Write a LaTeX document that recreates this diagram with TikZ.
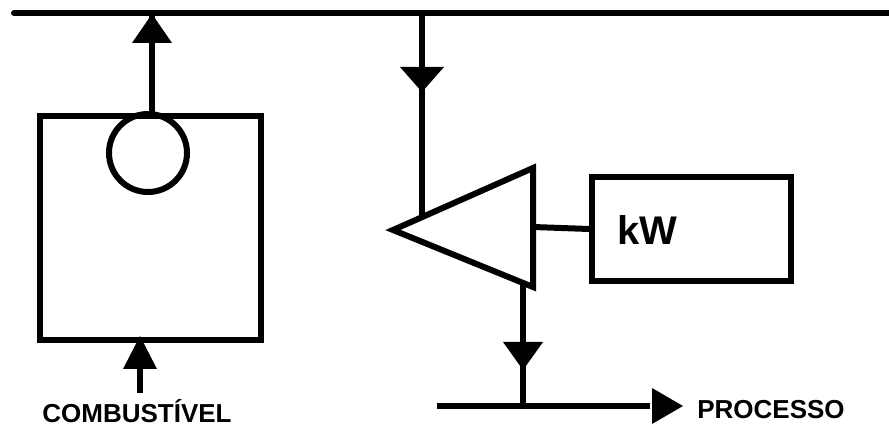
\documentclass[tikz,border=0pt]{standalone}
\usepackage{fontspec}
\setmainfont{Liberation Sans}
\begin{document}
\begin{tikzpicture}[x=1pt,y=-1pt,
  ln/.style={line width=6pt},
  head/.style={fill=black},
  lbl/.style={font=\bfseries\fontsize{26}{26}\selectfont, inner sep=0pt, anchor=base}]
\useasboundingbox (0,0) rectangle (889,427);
% coordinates
\coordinate (busL) at (14,13);
\coordinate (busR) at (895,13);
\coordinate (upTop) at (152,13);
\coordinate (boxT) at (152,113);
\coordinate (dnTop) at (422,13);
\coordinate (dnBot) at (422,217);
\coordinate (tipL) at (393,230);
\coordinate (tTop) at (533,168);
\coordinate (tBot) at (533,287);
\coordinate (shaftA) at (533,227);
\coordinate (exA) at (523,284);
\coordinate (exB) at (523,406);
\coordinate (prL) at (437,406);
\coordinate (prR) at (682,406);
\coordinate (fuelA) at (140,393);
\coordinate (fuelB) at (140,337);
% boiler
\node[draw, ln, minimum width=221pt, minimum height=224pt, inner sep=0pt, anchor=north west] (boiler) at (37,113) {};
\node[draw, ln, circle, minimum size=78pt, inner sep=0pt] (drum) at (148,153) {};
% generator box
\node[draw, ln, minimum width=199pt, minimum height=104pt, inner sep=0pt, anchor=north west] (gen) at (589,174) {};
\node[font=\bfseries\fontsize{40}{40}\selectfont, inner sep=0pt, anchor=base west] (kw) at (617,245) {kW};
% turbine
\draw[ln, line join=miter] (tipL) -- (tTop) -- (tBot) -- cycle;
% bus
\draw[ln, line cap=round] (busL) -- (busR);
% connectors
\draw[ln] (boxT) -- (upTop);
\fill[head] (152,14) -- (172,43) -- (132,43) -- cycle;
\draw[ln] (dnTop) -- (dnBot);
\fill[head] (400,67) -- (444,67) -- (422,92) -- cycle;
\draw[ln] (shaftA) -- (gen.west);
\draw[ln] (exA) -- (exB);
\fill[head] (503,342) -- (543,342) -- (523,370) -- cycle;
\draw[ln] (prL) -- (650,406);
\fill[head] (652,388) -- (683,406) -- (652,424) -- cycle;
\draw[ln] (fuelA) -- (fuelB);
\fill[head] (140,336) -- (157,369) -- (123,369) -- cycle;
% labels
\node[lbl] (comb) at (137,423) {COMBUSTÍVEL};
\node[lbl] (proc) at (771,418) {PROCESSO};
\end{tikzpicture}
\end{document}
